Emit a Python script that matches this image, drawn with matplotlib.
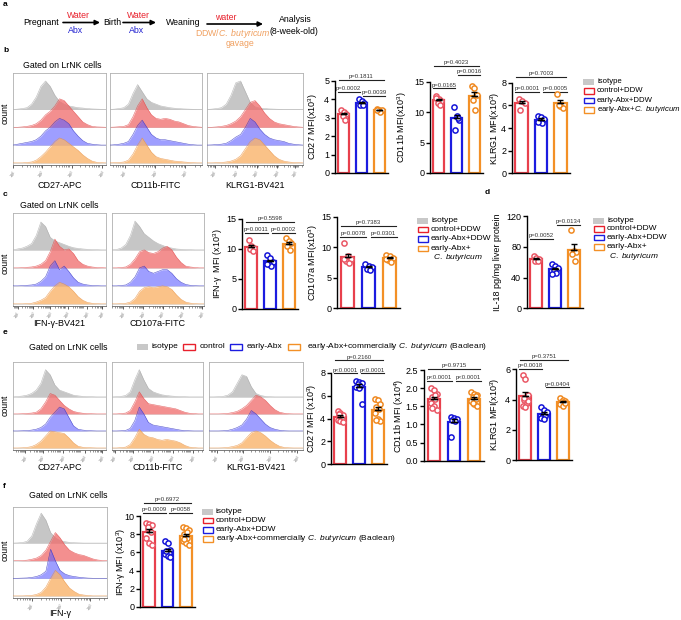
import numpy as np
import matplotlib
matplotlib.use('Agg')
import matplotlib.pyplot as plt
from matplotlib.patches import Rectangle

plt.rcParams['font.family'] = ['Liberation Sans', 'DejaVu Sans']
plt.rcParams['mathtext.fontset'] = 'custom'
plt.rcParams['mathtext.rm'] = 'Liberation Sans'
plt.rcParams['mathtext.it'] = 'Liberation Sans:italic'
plt.rcParams['mathtext.bf'] = 'Liberation Sans:bold'

# ---------------- data ----------------
legend_labels = ['isotype', 'control+DDW', 'early-Abx+DDW', r'early-Abx+$\it{C.\ butyricum}$']
legend_labels_f = ['isotype', 'control+DDW', 'early-Abx+DDW',
                   r'early-Abx+commercially $\it{C.\ butyricum}$ (Baolean)']
legend_labels_e = ['isotype', 'control', 'early-Abx',
                   r'early-Abx+commercially $\it{C.\ butyricum}$ (Baolean)']

# bar-chart points (control, early-Abx, early-Abx + C. butyricum)
b_cd27 = [[3.4, 3.3, 3.2, 3.1, 2.9], [4.0, 3.9, 3.8, 3.7, 3.7], [3.5, 3.4, 3.4, 3.4, 3.3, 3.4]]
b_cd11b = [[12.6, 12.1, 11.8, 11.5, 11.2, 12.3], [10.9, 9.3, 8.7, 7.1, 9.0], [14.3, 13.9, 12.8, 12.0, 10.4]]
b_klrg1 = [[6.6, 6.4, 6.2, 5.6], [5.1, 5.0, 4.8, 4.6, 4.4, 4.5], [7.0, 5.9, 5.8, 6.0]]
c_ifng = [[11.5, 10.4, 10.2, 9.9, 9.7], [8.9, 8.5, 7.8, 7.5, 7.2, 7.4], [11.8, 11.3, 11.0, 10.5, 9.8]]
c_cd107a = [[10.7, 8.5, 8.0, 7.8, 7.4, 8.0], [7.3, 7.0, 6.8, 6.5, 6.3], [8.8, 8.6, 8.2, 7.9, 7.6, 8.0]]
d_il18 = [[68, 66, 64, 62, 61], [57, 55, 53, 50, 46, 44], [102, 74, 73, 70, 62]]
e_cd27 = [[4.7, 4.5, 4.3, 4.2, 4.0, 3.9, 3.8, 3.7, 4.4], [7.3, 7.2, 7.1, 7.0, 6.9, 6.8, 6.7, 5.3],
          [5.7, 5.6, 5.3, 5.0, 4.8, 4.5, 4.0, 3.8, 3.9]]
e_cd11b = [[2.0, 1.95, 1.85, 1.75, 1.7, 1.6, 1.5, 1.4, 1.45, 1.8], [1.2, 1.18, 1.15, 1.12, 1.1, 0.65],
           [1.9, 1.85, 1.8, 1.75, 1.7, 1.65, 1.55, 1.5, 1.6, 1.78]]
e_klrg1 = [[5.6, 5.35, 4.3, 4.0, 3.8, 3.6, 3.5, 3.9, 4.1], [3.5, 3.3, 3.1, 3.0, 2.9, 2.8, 2.7, 3.2],
           [4.1, 4.0, 3.9, 3.85, 3.8, 3.7, 3.6, 3.75]]
f_ifng = [[9.2, 9.1, 9.0, 8.6, 8.2, 7.6, 7.0, 6.8, 8.8], [7.3, 7.0, 6.3, 6.0, 5.9, 5.8, 5.6, 5.5, 6.2],
          [8.8, 8.7, 8.5, 8.0, 7.6, 7.3, 7.0, 6.8, 7.5, 8.2]]

# p-values (pairs: 0-2, 0-1, 1-2)
b_cd27_p = ['p=0.1811', 'p=0.0002', 'p=0.0039']
b_cd11b_p = ['p=0.4023', 'p=0.0165', 'p=0.0016']
b_klrg1_p = ['p=0.7003', 'p=0.0001', 'p=0.0005']
c_ifng_p = ['p=0.5598', 'p=0.0011', 'p=0.0002']
c_cd107a_p = ['p=0.7383', 'p=0.0078', 'p=0.0301']
d_il18_p = [None, 'p=0.0052', 'p=0.0134']
e_cd27_p = ['p=0.2160', 'p<0.0001', 'p<0.0001']
e_cd11b_p = ['p=0.9715', 'p<0.0001', 'p<0.0001']
e_klrg1_p = ['p=0.3751', 'p=0.0018', 'p=0.0404']
f_ifng_p = ['p=0.6972', 'p=0.0009', 'p=0058']

# flow histograms: [isotype, control, early-Abx, early-Abx+C.b.], sampled evenly across each plot
hist_b_cd27 = [[0, 0.02, 0.05, 0.1, 0.3, 0.7, 1.3, 1.6, 1.3, 0.8, 0.45, 0.3, 0.2, 0.15, 0.1, 0.08, 0.05, 0.03, 0.02, 0.01, 0],
               [0, 0, 0.02, 0.05, 0.1, 0.2, 0.4, 0.7, 0.9, 1.2, 1.6, 1.5, 1.2, 0.9, 0.6, 0.3, 0.15, 0.05, 0.02, 0.01, 0],
               [0, 0.05, 0.1, 0.15, 0.2, 0.3, 0.5, 0.8, 1.0, 1.3, 1.5, 1.4, 1.2, 0.8, 0.5, 0.25, 0.1, 0.05, 0.02, 0, 0],
               [0, 0, 0, 0.02, 0.05, 0.15, 0.35, 0.6, 0.9, 1.2, 1.4, 1.3, 1.1, 0.9, 0.7, 0.45, 0.25, 0.1, 0.03, 0.01, 0]]
hist_b_cd11b = [[0, 0.02, 0.05, 0.1, 0.3, 0.9, 1.4, 1.0, 0.6, 0.4, 0.3, 0.2, 0.15, 0.1, 0.07, 0.05, 0.03, 0.02, 0.01, 0, 0],
                [0, 0.01, 0.03, 0.05, 0.15, 0.6, 1.2, 1.6, 1.1, 0.7, 0.5, 0.45, 0.5, 0.45, 0.35, 0.3, 0.2, 0.1, 0.05, 0.02, 0],
                [0, 0.02, 0.05, 0.1, 0.2, 0.6, 1.1, 1.4, 1.0, 0.6, 0.4, 0.3, 0.3, 0.25, 0.2, 0.15, 0.1, 0.05, 0.02, 0, 0],
                [0, 0.01, 0.02, 0.05, 0.15, 0.5, 1.0, 1.4, 1.0, 0.6, 0.35, 0.25, 0.2, 0.15, 0.1, 0.08, 0.05, 0.03, 0.01, 0, 0]]
hist_b_klrg1 = [[0, 0.02, 0.05, 0.1, 0.3, 0.8, 1.5, 1.6, 1.0, 0.4, 0.15, 0.08, 0.05, 0.03, 0.02, 0.01, 0, 0, 0, 0, 0],
                [0, 0, 0.02, 0.05, 0.1, 0.2, 0.35, 0.6, 1.0, 1.4, 1.5, 1.2, 0.8, 0.5, 0.3, 0.2, 0.15, 0.1, 0.05, 0.02, 0],
                [0, 0.01, 0.03, 0.05, 0.1, 0.25, 0.45, 0.6, 1.0, 1.5, 1.3, 0.9, 0.6, 0.4, 0.3, 0.25, 0.2, 0.1, 0.05, 0.02, 0],
                [0, 0, 0.01, 0.02, 0.05, 0.1, 0.2, 0.4, 0.8, 1.2, 1.4, 1.3, 1.0, 0.7, 0.4, 0.2, 0.1, 0.05, 0.02, 0.01, 0]]
hist_c_ifng = [[0, 0.05, 0.1, 0.2, 0.35, 0.8, 1.55, 1.3, 0.7, 0.5, 0.4, 0.3, 0.2, 0.12, 0.08, 0.05, 0.03, 0.02, 0.01, 0, 0],
               [0, 0, 0.01, 0.03, 0.05, 0.1, 0.2, 0.4, 0.9, 1.6, 1.2, 1.0, 1.05, 0.8, 0.4, 0.2, 0.1, 0.05, 0.02, 0.01, 0],
               [0, 0, 0.01, 0.03, 0.05, 0.1, 0.25, 0.5, 1.1, 1.4, 0.9, 1.1, 0.8, 0.45, 0.2, 0.1, 0.05, 0.02, 0.01, 0, 0],
               [0, 0, 0, 0.01, 0.03, 0.1, 0.2, 0.35, 0.7, 1.0, 1.2, 1.1, 0.95, 0.7, 0.4, 0.2, 0.08, 0.03, 0.01, 0, 0]]
hist_c_cd107a = [[0, 0.02, 0.1, 0.3, 0.8, 1.6, 1.3, 0.9, 0.7, 0.5, 0.35, 0.25, 0.15, 0.1, 0.05, 0.03, 0.02, 0.01, 0, 0, 0],
                 [0, 0, 0.02, 0.05, 0.2, 0.5, 0.9, 1.0, 0.85, 0.8, 0.9, 1.1, 1.2, 1.0, 0.6, 0.3, 0.1, 0.05, 0.02, 0, 0],
                 [0, 0, 0.02, 0.05, 0.2, 0.5, 1.0, 1.1, 0.8, 0.7, 0.8, 0.9, 0.9, 0.7, 0.4, 0.2, 0.08, 0.03, 0.01, 0, 0],
                 [0, 0, 0.01, 0.03, 0.1, 0.3, 0.7, 0.9, 0.95, 0.9, 0.95, 1.0, 0.95, 0.8, 0.5, 0.25, 0.1, 0.04, 0.01, 0, 0]]
hist_e_cd27 = [[0, 0.02, 0.05, 0.1, 0.2, 0.4, 0.8, 1.6, 1.3, 0.7, 0.4, 0.3, 0.2, 0.1, 0.06, 0.03, 0.02, 0.01, 0, 0, 0],
               [0, 0, 0.01, 0.03, 0.05, 0.1, 0.3, 0.7, 1.2, 1.1, 0.8, 0.5, 0.3, 0.15, 0.08, 0.04, 0.02, 0.01, 0, 0, 0],
               [0, 0, 0.01, 0.02, 0.05, 0.1, 0.2, 0.4, 0.8, 1.1, 1.4, 1.3, 0.8, 0.3, 0.1, 0.05, 0.02, 0.01, 0, 0, 0],
               [0, 0, 0.01, 0.03, 0.08, 0.2, 0.4, 0.7, 1.0, 0.95, 0.9, 0.85, 0.6, 0.3, 0.1, 0.04, 0.02, 0.01, 0, 0, 0]]
hist_e_cd11b = [[0, 0.01, 0.03, 0.08, 0.3, 1.0, 1.6, 1.0, 0.5, 0.3, 0.2, 0.12, 0.08, 0.05, 0.03, 0.02, 0.01, 0, 0, 0, 0],
                [0, 0, 0.02, 0.05, 0.2, 0.7, 1.3, 0.9, 0.6, 0.55, 0.5, 0.45, 0.4, 0.35, 0.3, 0.2, 0.1, 0.04, 0.02, 0, 0],
                [0, 0, 0.01, 0.03, 0.15, 0.6, 1.4, 1.0, 0.5, 0.35, 0.3, 0.25, 0.2, 0.15, 0.1, 0.05, 0.02, 0.01, 0, 0, 0],
                [0, 0, 0.02, 0.05, 0.2, 0.6, 1.1, 0.8, 0.65, 0.6, 0.5, 0.45, 0.5, 0.45, 0.4, 0.3, 0.15, 0.05, 0.02, 0, 0]]
hist_e_klrg1 = [[0, 0, 0.01, 0.03, 0.1, 0.3, 0.8, 1.3, 1.2, 0.6, 0.2, 0.08, 0.03, 0.01, 0, 0, 0, 0, 0, 0, 0],
                [0, 0, 0, 0.01, 0.03, 0.08, 0.15, 0.3, 0.5, 0.8, 1.1, 1.0, 0.8, 0.5, 0.25, 0.1, 0.04, 0.01, 0, 0, 0],
                [0, 0, 0, 0.01, 0.03, 0.1, 0.2, 0.35, 0.7, 1.2, 1.0, 0.7, 0.4, 0.2, 0.1, 0.04, 0.01, 0, 0, 0, 0],
                [0, 0, 0, 0.01, 0.03, 0.08, 0.15, 0.3, 0.6, 0.9, 1.0, 0.9, 0.7, 0.45, 0.25, 0.1, 0.03, 0.01, 0, 0, 0]]
hist_f_ifng = [[0, 0.01, 0.03, 0.1, 0.4, 1.1, 1.7, 1.3, 0.6, 0.3, 0.15, 0.08, 0.04, 0.02, 0.01, 0, 0, 0, 0, 0, 0],
               [0, 0, 0.01, 0.03, 0.08, 0.15, 0.3, 0.6, 1.1, 1.6, 1.3, 0.9, 0.6, 0.45, 0.35, 0.3, 0.2, 0.1, 0.04, 0.01, 0],
               [0, 0, 0.01, 0.02, 0.05, 0.1, 0.2, 0.4, 1.65, 1.0, 0.45, 0.25, 0.15, 0.1, 0.06, 0.03, 0.01, 0, 0, 0, 0],
               [0, 0, 0, 0.01, 0.03, 0.08, 0.2, 0.5, 1.0, 1.45, 1.2, 0.8, 0.45, 0.25, 0.1, 0.05, 0.02, 0, 0, 0, 0]]

# ---------------- styling ----------------
W, H = 681, 620
fig = plt.figure(figsize=(W / 100, H / 100), dpi=100)

BAR_COLORS = ['#e8404c', '#1c1ce0', '#f39026']
DOT_COLORS = ['#ea5866', '#1414d8', '#f08a22']
LEG_COLORS = ['#c8c8c8', '#e8202c', '#1c1ce0', '#f39026']
H_FILL = ['#c6c6c6', '#f06a6a', '#5e5eff', '#f9b36a']
H_ALPHA = [1.0, 0.75, 0.6, 0.8]
H_EDGE = ['#a8a8a8', '#e04848', '#3030c0', '#e89040']


def ax_px(l, t, r, b):
    return fig.add_axes([l / W, 1 - b / H, (r - l) / W, (b - t) / H])


def bar_chart(l, r, y0, ytop, ymax, ticks, data, ylabel, ylab_x, ptexts, levels, ticklabels=None):
    ax = ax_px(l, ytop, r, y0)
    ax.set_facecolor('none')
    ax.set_xlim(-0.5, 2.5)
    ax.set_ylim(0, ymax)
    for i, vals in enumerate(data):
        vals = np.asarray(vals, dtype=float)
        m = vals.mean()
        sem = vals.std(ddof=1) / np.sqrt(len(vals))
        ax.bar(i, m, width=0.64, facecolor='white', edgecolor=BAR_COLORS[i], lw=1.6, zorder=2)
        offs = np.resize([-0.15, 0.0, 0.15, -0.075, 0.075], len(vals))
        ax.scatter(i + offs, vals, s=14, facecolor='white', edgecolor=DOT_COLORS[i],
                   lw=1.1, zorder=4, clip_on=False)
        ax.errorbar(i, m, yerr=[[0], [sem]], fmt='none', ecolor='k', capsize=2,
                    elinewidth=1, capthick=1, zorder=5)
        ax.plot([i - 0.14, i + 0.14], [m, m], color='k', lw=1, zorder=5)
    pairs = [(0, 2), (0, 1), (1, 2)]
    spans = {(0, 2): (-0.3, 2.3), (0, 1): (-0.35, 0.9), (1, 2): (1.1, 2.35)}
    for (pr, txt, lvl) in zip(pairs, ptexts, levels):
        if txt is None:
            continue
        xs = spans[pr]
        ax.plot(xs, [lvl, lvl], color='#222222', lw=0.8, clip_on=False)
        ax.annotate(txt, ((xs[0] + xs[1]) / 2, lvl), xytext=(0, 0.6), textcoords='offset points',
                    ha='center', va='bottom', fontsize=4.3, color='#333333', annotation_clip=False)
    for s in ['top', 'right']:
        ax.spines[s].set_visible(False)
    for s in ['left', 'bottom']:
        ax.spines[s].set_linewidth(1.0)
    ax.set_xticks([])
    ax.set_yticks(ticks)
    if ticklabels is not None:
        ax.set_yticklabels(ticklabels)
    ax.tick_params(axis='y', length=3, width=1, labelsize=6.5, pad=1.2)
    fig.text(ylab_x / W, 1 - ((ytop + y0) / 2) / H, ylabel, rotation=90, ha='center', va='center',
             fontsize=6.5)
    return ax


def hist_box(l, t, r, b, curves, tick_fracs, xlabel, xlabel_y):
    ax = ax_px(l, t, r, b)
    ax.set_facecolor('white')
    x = np.linspace(0, 1, len(curves[0]))
    bases = [3, 2, 1, 0]
    for k in range(4):
        y = bases[k] + np.asarray(curves[k], dtype=float)
        ax.axhline(bases[k], color='#d4d4d4', lw=0.5, zorder=0.5)
        ax.fill_between(x, bases[k], y, color=H_FILL[k], alpha=H_ALPHA[k], lw=0, zorder=k + 1)
        ax.plot(x, y, color=H_EDGE[k], lw=0.4, alpha=0.8, zorder=k + 1)
    ax.set_xlim(0, 1)
    ax.set_ylim(-0.12, 5.05)
    ax.set_yticks([])
    for s in ax.spines.values():
        s.set_color('#b0b0b0')
        s.set_linewidth(0.6)
    ax.spines['bottom'].set_color('#666666')
    ax.set_xticks(tick_fracs)
    ax.set_xticklabels([f'$10^{{{k + 1}}}$' for k in range(len(tick_fracs))], fontsize=2.8,
                       rotation=45, color='#666666')
    d = tick_fracs[1] - tick_fracs[0]
    minors = []
    for tk in [tick_fracs[0] - d] + list(tick_fracs):
        for mm in range(2, 10):
            p = tk + d * np.log10(mm)
            if 0 <= p <= 1:
                minors.append(p)
    ax.set_xticks(minors, minor=True)
    ax.tick_params(axis='x', which='major', length=2.5, width=0.6, pad=0.3, color='#444444')
    ax.tick_params(axis='x', which='minor', length=1.3, width=0.4, color='#444444')
    fig.text(((l + r) / 2) / W, 1 - xlabel_y / H, xlabel, ha='center', va='center', fontsize=6.5)
    return ax


# ---------------- histograms ----------------
hist_box(13, 73, 106, 165, hist_b_cd27, [0.0, 0.31, 0.63, 0.96], 'CD27-APC', 186)
hist_box(110, 73, 202, 165, hist_b_cd11b, [0.16, 0.49, 0.82], 'CD11b-FITC', 186)
hist_box(207, 73, 303, 165, hist_b_klrg1, [0.08, 0.31, 0.52, 0.73, 0.92], 'KLRG1-BV421', 186)
hist_box(13, 213, 106, 306, hist_c_ifng, [0.05, 0.22, 0.40, 0.59, 0.80, 0.96], 'IFN-γ-BV421', 324)
hist_box(112, 213, 204, 306, hist_c_cd107a, [0.12, 0.34, 0.55, 0.77, 0.98], 'CD107a-FITC', 324)
hist_box(13, 362, 106, 450, hist_e_cd27, [0.13, 0.32, 0.54, 0.77, 0.96], 'CD27-APC', 467)
hist_box(112, 362, 203, 450, hist_e_cd11b, [0.03, 0.23, 0.45, 0.67, 0.89], 'CD11b-FITC', 467)
hist_box(209, 362, 303, 450, hist_e_klrg1, [0.08, 0.36, 0.65, 0.94], 'KLRG1-BV421', 467)
hist_box(13, 507, 107, 598, hist_f_ifng, [0.2, 0.51, 0.82], 'IFN-γ', 614)

# ---------------- bar charts ----------------
bar_chart(335, 388, 173, 81, 5, [0, 1, 2, 3, 4, 5], b_cd27, r'CD27 MFI(x10$^3$)', 313,
          b_cd27_p, [5.05, 4.4, 4.2])
bar_chart(430, 483, 173, 81.7, 15, [0, 5, 10, 15], b_cd11b, r'CD11b MFI(x10$^3$)', 402,
          b_cd11b_p, [17.6, 13.9, 16.1])
bar_chart(512, 570, 173.3, 82.7, 8, [0, 2, 4, 6, 8], b_klrg1, r'KLRG1 MFI(x10$^3$)', 495,
          b_klrg1_p, [8.5, 7.2, 7.2])
bar_chart(242, 298, 308.5, 219, 15, [0, 5, 10, 15], c_ifng, r'IFN-γ  MFI (x10$^3$)', 218,
          c_ifng_p, [14.5, 12.6, 12.6])
bar_chart(337, 400, 308.3, 216.7, 15, [0, 5, 10, 15], c_cd107a, r'CD107a MFI(x10$^3$)', 313,
          c_cd107a_p, [13.5, 11.7, 11.7])
bar_chart(527, 583, 308.3, 216, 120, [0, 40, 80, 120], d_il18, 'IL-18 pg/mg liver protein', 497,
          d_il18_p, [0, 90, 108])
bar_chart(331, 387, 464, 373, 8, [0, 2, 4, 6, 8], e_cd27, r'CD27 MFI (x10$^3$)', 312,
          e_cd27_p, [9.1, 7.96, 7.96])
bar_chart(424, 484, 460.7, 370, 2.5, [0, 0.5, 1.0, 1.5, 2.0, 2.5], e_cd11b, r'CD11b MFI (x10$^4$)', 399,
          e_cd11b_p, [2.52, 2.2, 2.2], ticklabels=['0.0', '0.5', '1.0', '1.5', '2.0', '2.5'])
bar_chart(516, 572, 460, 369.3, 6, [0, 2, 4, 6], e_klrg1, r'KLRG1 MFI(x10$^3$)', 495,
          e_klrg1_p, [6.6, 6.0, 4.8])
bar_chart(140, 195, 607, 516, 10, [0, 2, 4, 6, 8, 10], f_ifng, r'IFN-γ MFI (x10$^3$)', 121,
          f_ifng_p, [11.4, 10.3, 10.3])

# ---------------- free text overlay (pixel coordinates) ----------------
ax0 = fig.add_axes([0, 0, 1, 1])
ax0.set_xlim(0, W)
ax0.set_ylim(H, 0)
ax0.axis('off')
ax0.set_zorder(10)


def T(x, y, s, **kw):
    kw.setdefault('fontsize', 6.3)
    kw.setdefault('va', 'center')
    ax0.text(x, y, s, **kw)


def arrow(x1, x2, y):
    ax0.annotate('', xy=(x2, y), xytext=(x1, y),
                 arrowprops=dict(arrowstyle='-|>', color='black', lw=1.2, mutation_scale=7,
                                 shrinkA=0, shrinkB=0))


# panel labels
for lab, x, y in [('a', 3, 4), ('b', 3, 51), ('c', 3, 195), ('d', 485, 193), ('e', 3, 332), ('f', 3, 486)]:
    T(x, y, lab, fontsize=6, fontweight='bold')

# panel a scheme
RED_T, BLUE_T, ORANGE_T = '#e8202c', '#2020d0', '#f0a060'
T(23, 22.5, 'Pregnant')
arrow(63, 100, 22.5)
T(67, 16, 'Water', color=RED_T)
T(68, 30.5, 'Abx', color=BLUE_T)
T(103, 22.5, 'Birth')
arrow(123, 156, 22.5)
T(127, 16, 'Water', color=RED_T)
T(128.5, 30.5, 'Abx', color=BLUE_T)
T(166, 22.5, 'Weaning')
arrow(207, 263, 24)
T(215, 17, 'water', color=RED_T)
T(233, 33, r'DDW/$\it{C.\ butyricum}$', color=ORANGE_T, ha='center')
T(239.5, 43, 'gavage', color=ORANGE_T, ha='center')
T(295, 19, 'Analysis', ha='center')
T(294, 31.5, '(8-week-old)', ha='center')

# "Gated on" titles and count labels
T(23, 66, 'Gated on LrNK cells')
T(20, 205, 'Gated on LrNK cells')
T(29, 347, 'Gated on LrNK cells')
T(29, 496, 'Gated on LrNK cells')
for yc in [113, 263, 405, 550]:
    T(5, yc, 'count', rotation=90, ha='center')


def legend_col(x, ys, labels, extra=None, fs=6):
    for k, (y, lab) in enumerate(zip(ys, labels)):
        if k == 0:
            ax0.add_patch(Rectangle((x, y - 3), 11, 6, facecolor=LEG_COLORS[0], edgecolor='none'))
        else:
            ax0.add_patch(Rectangle((x + 0.5, y - 2.6), 10.5, 5.6, facecolor='white',
                                    edgecolor=LEG_COLORS[k], lw=1.0))
        T(x + 14, y, lab, fontsize=fs)
    if extra is not None:
        T(x + 16, extra[0], extra[1], fontsize=fs)


legend_col(583, [81.5, 90.8, 100.1, 109.6], legend_labels, fs=5.6)
legend_col(417, [220.7, 229.5, 239.0, 248.3], legend_labels[:3] + ['early-Abx+'],
           extra=(257.3, r'$\it{C.\ butyricum}$'))
legend_col(593, [220.7, 228.6, 237.5, 246.7], legend_labels[:3] + ['early-Abx+'],
           extra=(256, r'$\it{C.\ butyricum}$'))
legend_col(202, [511.7, 520.3, 529.5, 539.0], legend_labels_f)

# panel e horizontal legend
ex = [137, 183, 230, 288]
etx = [152, 200, 247, 307]
for k in range(4):
    if k == 0:
        ax0.add_patch(Rectangle((ex[k], 344), 11, 6, facecolor=LEG_COLORS[0], edgecolor='none'))
    else:
        ax0.add_patch(Rectangle((ex[k], 344.2), 12, 5.6, facecolor='white', edgecolor=LEG_COLORS[k], lw=1.0))
    T(etx[k], 347, legend_labels_e[k], fontsize=6)

fig.savefig('out.png', dpi=100)
